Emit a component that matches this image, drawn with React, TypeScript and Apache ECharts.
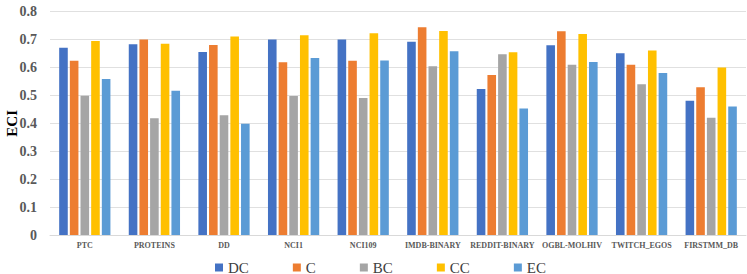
import React, { useEffect, useRef } from "react";
import * as echarts from "echarts";

const categories = ["PTC", "PROTEINS", "DD", "NCI1", "NCI109", "IMDB-BINARY", "REDDIT-BINARY", "OGBL-MOLHIV", "TWITCH_EGOS", "FIRSTMM_DB"];
const seriesNames = ["DC", "C", "BC", "CC", "EC"];
const dcValues = [0.671, 0.683, 0.656, 0.700, 0.700, 0.692, 0.523, 0.680, 0.651, 0.481];
const cValues = [0.624, 0.700, 0.681, 0.619, 0.624, 0.744, 0.573, 0.730, 0.610, 0.529];
const bcValues = [0.499, 0.418, 0.429, 0.498, 0.491, 0.605, 0.648, 0.610, 0.540, 0.420];
const ccValues = [0.695, 0.685, 0.711, 0.716, 0.723, 0.731, 0.655, 0.720, 0.661, 0.600];
const ecValues = [0.559, 0.517, 0.399, 0.634, 0.625, 0.658, 0.453, 0.620, 0.580, 0.460];
const colors = ["#4472C4", "#ED7D31", "#A5A5A5", "#FFC000", "#5B9BD5"];

const SERIF = "'Liberation Serif', 'Times New Roman', serif";

export default function App() {
  const ref = useRef<HTMLDivElement>(null);
  useEffect(() => {
    if (!ref.current) return;
    const chart = echarts.init(ref.current, undefined, { renderer: "svg" });
    const all = [dcValues, cValues, bcValues, ccValues, ecValues];
    chart.setOption({
      animation: false,
      backgroundColor: "#ffffff",
      grid: { left: 50, right: 1, top: 11.7, bottom: 39, containLabel: false, outerBoundsMode: "none" },
      legend: {
        data: seriesNames,
        top: 255,
        left: 210,
        itemWidth: 8,
        itemHeight: 8,
        itemGap: 44,
        icon: "rect",
        textStyle: { fontFamily: SERIF, fontSize: 15, color: "#404040" },
      },
      xAxis: {
        type: "category",
        data: categories,
        axisLine: { lineStyle: { color: "#D9D9D9" } },
        axisTick: { show: false },
        axisLabel: { fontFamily: SERIF, fontWeight: "bold", fontSize: 8, color: "#595959", margin: 6, interval: 0 },
      },
      yAxis: {
        type: "value",
        min: 0,
        max: 0.8,
        interval: 0.1,
        name: "ECI",
        nameLocation: "middle",
        nameRotate: 90,
        nameGap: 31,
        nameMoveOverlap: false,
        nameTextStyle: { fontFamily: SERIF, fontWeight: "bold", fontSize: 15, color: "#000000" },
        splitLine: { lineStyle: { color: "#E0E0E0" } },
        axisLine: { show: false },
        axisTick: { show: false },
        axisLabel: {
          fontFamily: SERIF,
          fontWeight: "bold",
          fontSize: 14,
          color: "#595959",
          margin: 13,
          formatter: (v: number) => (v === 0 ? "0" : v.toFixed(1)),
        },
      },
      series: seriesNames.map((n, i) => ({
        name: n,
        type: "bar",
        data: all[i],
        barWidth: 8.6,
        barGap: "24%",
        itemStyle: { color: colors[i] },
      })),
    });
    return () => chart.dispose();
  }, []);
  return <div ref={ref} style={{ position: "fixed", left: 0, top: 0, width: 747, height: 274 }} />;
}
